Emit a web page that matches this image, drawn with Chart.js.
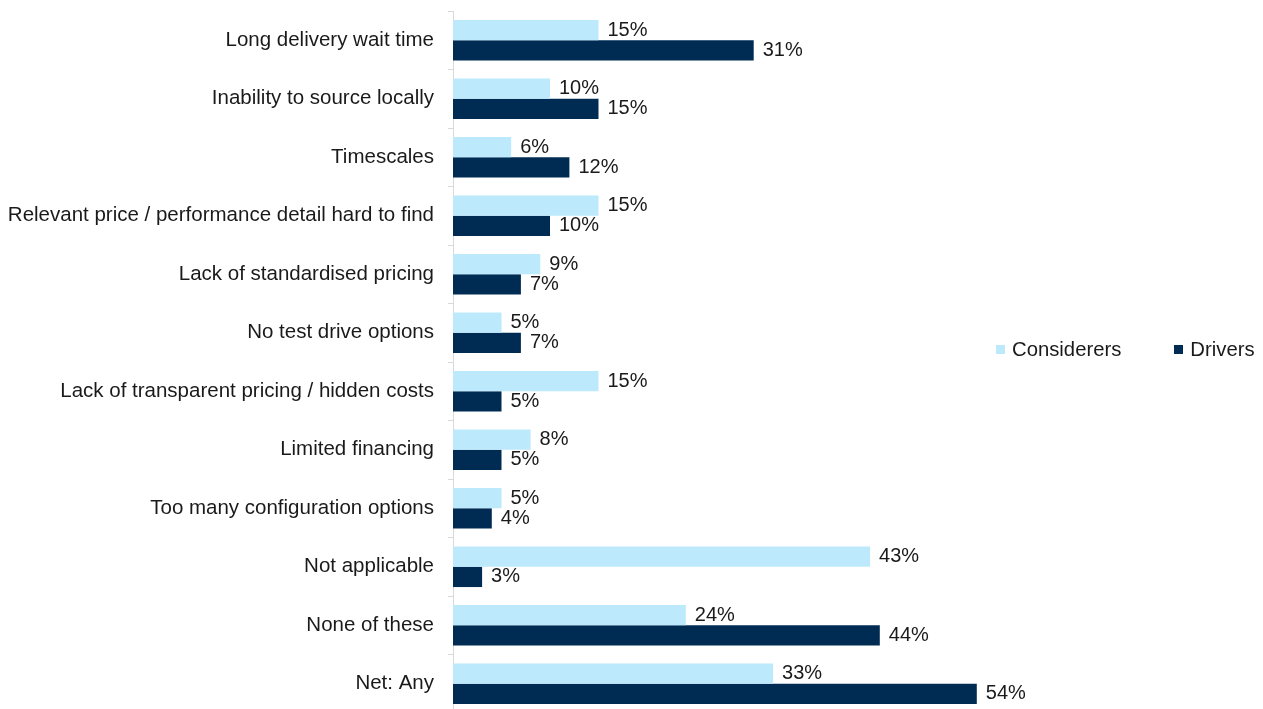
<!DOCTYPE html>
<html>
<head>
<meta charset="utf-8">
<script src="https://cdn.jsdelivr.net/npm/chart.js@4"></script>
<style>
  html, body { margin: 0; padding: 0; background: #fff; overflow: hidden; }
  #wrap { position: relative; width: 1263px; height: 714px; }
  #legend {
    position: absolute; left: 996px; top: 338px;
    font: 20.3px "Liberation Sans", Arial, sans-serif; color: #1a1a1a;
    display: flex; align-items: center; white-space: nowrap;
  }
  #legend .item { display: flex; align-items: center; }
  #legend .box { width: 9px; height: 9px; margin-right: 7px; }
  #legend .item + .item { margin-left: 53px; }
</style>
</head>
<body>
<div id="wrap">
  <canvas id="chart" width="1263" height="714"></canvas>
  <div id="legend"></div>
</div>
<script>
  const categories = [
    'Long delivery wait time',
    'Inability to source locally',
    'Timescales',
    'Relevant price / performance detail hard to find',
    'Lack of standardised pricing',
    'No test drive options',
    'Lack of transparent pricing / hidden costs',
    'Limited financing',
    'Too many configuration options',
    'Not applicable',
    'None of these',
    'Net: Any',
  ];
  const considerers = [15, 10, 6, 15, 9, 5, 15, 8, 5, 43, 24, 33];
  const drivers = [31, 15, 12, 10, 7, 7, 5, 5, 4, 3, 44, 54];

  const LIGHT = '#bde9fc';
  const DARK = '#002c54';
  const FONT = '"Liberation Sans", Arial, sans-serif';

  // value labels to the right of each bar
  const barLabels = {
    id: 'barLabels',
    afterDatasetsDraw(chart) {
      const ctx = chart.ctx;
      ctx.save();
      ctx.font = '20px ' + FONT;
      ctx.fillStyle = '#1a1a1a';
      ctx.textAlign = 'left';
      ctx.textBaseline = 'middle';
      chart.data.datasets.forEach((ds, i) => {
        chart.getDatasetMeta(i).data.forEach((bar, j) => {
          ctx.fillText(ds.data[j] + '%', bar.x + 9, bar.y);
        });
      });
      ctx.restore();
    },
  };

  const chart = new Chart(document.getElementById('chart'), {
    type: 'bar',
    data: {
      labels: categories,
      datasets: [
        { label: 'Considerers', data: considerers, backgroundColor: LIGHT },
        { label: 'Drivers', data: drivers, backgroundColor: DARK },
      ],
    },
    options: {
      indexAxis: 'y',
      responsive: false,
      animation: false,
      layout: { padding: { top: 11, right: 228, bottom: 1, left: 0 } },
      datasets: { bar: { categoryPercentage: 0.694, barPercentage: 1.0 } },
      plugins: { legend: { display: false }, tooltip: { enabled: false } },
      scales: {
        x: { display: false, min: 0, max: 60 },
        y: {
          afterFit(scale) {
            scale.width = 453;
            scale.paddingTop = 0;
            scale.paddingBottom = 0;
          },
          border: { color: '#d9d9d9', width: 1 },
          grid: { drawOnChartArea: false, drawTicks: true, tickLength: 5, color: '#d9d9d9' },
          ticks: { color: '#1a1a1a', font: { family: FONT, size: 20.5 }, padding: 14 },
        },
      },
    },
    plugins: [barLabels],
  });

  const legend = document.getElementById('legend');
  legend.innerHTML = chart.data.datasets.map(ds =>
    `<span class="item"><span class="box" style="background:${ds.backgroundColor}"></span>${ds.label}</span>`
  ).join('');
</script>
</body>
</html>
